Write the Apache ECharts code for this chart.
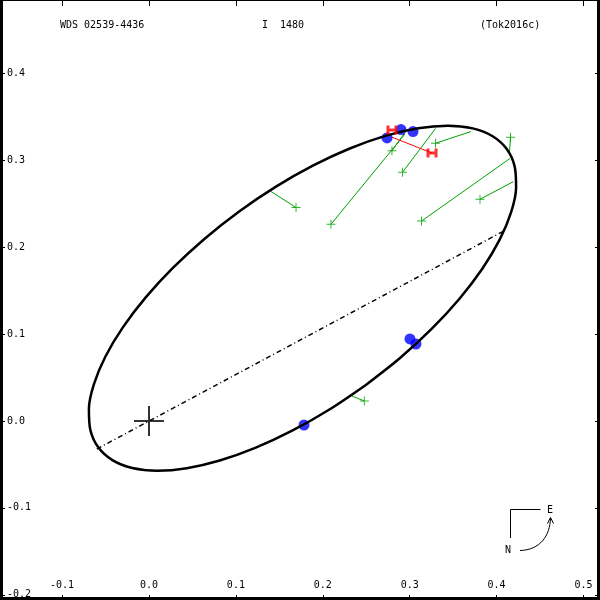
<!DOCTYPE html>
<html><head><meta charset="utf-8">
<script src="https://cdn.jsdelivr.net/npm/echarts@6/dist/echarts.min.js"></script>
<style>html,body{margin:0;padding:0;background:#fff}#c{width:600px;height:600px}</style>
</head><body><div id="c"></div>
<script>
// ---- data (arcsec) ----
const xTicks = [-0.1, 0.0, 0.1, 0.2, 0.3, 0.4, 0.5];
const yTicks = [-0.2, -0.1, 0.0, 0.1, 0.2, 0.3, 0.4];
const headerLeft = 'WDS 02539-4436';
const headerMid = 'I  1480';
const headerRight = '(Tok2016c)';

// apparent orbit, points
const orbit = [
  [0.24953,0.04151],[0.20761,0.01323],[0.16474,-0.01117],[0.12225,-0.03094],[0.08140,-0.04546],
  [0.04345,-0.05432],[0.00955,-0.05723],[-0.01929,-0.05410],[-0.04216,-0.04504],[-0.05839,-0.03032],
  [-0.06748,-0.01038],[-0.06915,0.01416],[-0.06335,0.04257],[-0.05025,0.07398],[-0.03028,0.10744],
  [-0.00401,0.14192],[0.02776,0.17639],[0.06405,0.20979],[0.10375,0.24111],[0.14567,0.26939],
  [0.18854,0.29379],[0.23103,0.31356],[0.27188,0.32808],[0.30983,0.33694],[0.34373,0.33985],
  [0.37257,0.33672],[0.39544,0.32766],[0.41167,0.31294],[0.42076,0.29300],[0.42243,0.26846],
  [0.41663,0.24005],[0.40353,0.20864],[0.38356,0.17518],[0.35729,0.14070],[0.32552,0.10623],
  [0.28923,0.07283],[0.24953,0.04151]
];
// line of nodes
const nodes = [[-0.0600,-0.0322],[0.4080,0.2185]];
// speckle measures (blue)
const speckle = [[0.2739,0.3257],[0.2900,0.3354],[0.3038,0.3331],[0.3003,0.0944],[0.3072,0.0886],[0.1784,-0.0046]];
// micrometric measures (green) and their predicted positions
const micro = [[0.1692,0.2457],[0.2094,0.2264],[0.2796,0.3110],[0.2917,0.2862],[0.3297,0.3196],
               [0.4160,0.3265],[0.3809,0.2552],[0.3136,0.2301],[0.2478,0.0230]];
const microFit = [[0.1404,0.2641],[0.2946,0.3303],[0.2934,0.3303],[0.3297,0.3366],[0.3705,0.3331],
                  [0.4148,0.3096],[0.4192,0.2754],[0.4154,0.3021],[0.2333,0.0288]];
// Hipparcos-type measures (red)
const hip = [[0.2796,0.3349],[0.3257,0.3084]];
const hipFit = [[0.2796,0.3349],[0.2791,0.3268]];
const origin = [[0,0]];

// ---- chart ----
const FONT = 'DejaVu Sans Mono';
const xMin = -0.17146, xMax = 0.51899, yMin = -0.20598, yMax = 0.48446;
const fmt = v => v.toFixed(1);
const plusPath = 'path://M4,0 L5,0 L5,4 L9,4 L9,5 L5,5 L5,9 L4,9 L4,5 L0,5 L0,4 L4,4 Z';
const bigPlus = 'path://M14,0 L16,0 L16,14 L30,14 L30,16 L16,16 L16,30 L14,30 L14,16 L0,16 L0,14 L14,14 Z';
const hPath = 'path://M0,0 L3,0 L3,3 L8,3 L8,0 L11,0 L11,9 L8,9 L8,6 L3,6 L3,9 L0,9 Z';

const chart = echarts.init(document.getElementById('c'), null, {renderer: 'canvas'});
chart.setOption({
  animation: false,
  backgroundColor: '#fff',
  grid: {left: 0, right: 0, top: 0, bottom: 0, containLabel: false},
  xAxis: [
    {type: 'value', position: 'bottom', min: xMin, max: xMax,
     splitLine: {show: false},
     axisLine: {show: true, onZero: false, lineStyle: {color: '#000', width: 6}},
     axisTick: {show: true, inside: true, length: 5, customValues: xTicks, lineStyle: {color: '#000', width: 1}},
     axisLabel: {show: true, inside: true, margin: 10, customValues: xTicks, formatter: fmt,
                 color: '#000', fontFamily: FONT, fontSize: 10}},
    {type: 'value', position: 'top', min: xMin, max: xMax,
     splitLine: {show: false},
     axisLine: {show: true, onZero: false, lineStyle: {color: '#000', width: 2}},
     axisTick: {show: true, inside: true, length: 6, customValues: xTicks, lineStyle: {color: '#000', width: 1}},
     axisLabel: {show: false}}
  ],
  yAxis: [
    {type: 'value', position: 'left', min: yMin, max: yMax,
     splitLine: {show: false},
     axisLine: {show: true, onZero: false, lineStyle: {color: '#000', width: 6}},
     axisTick: {show: true, inside: true, length: 5, customValues: yTicks, lineStyle: {color: '#000', width: 1}},
     axisLabel: {show: true, inside: true, margin: 7, customValues: yTicks, formatter: fmt,
                 color: '#000', fontFamily: FONT, fontSize: 10}},
    {type: 'value', position: 'right', min: yMin, max: yMax,
     splitLine: {show: false},
     axisLine: {show: true, onZero: false, lineStyle: {color: '#000', width: 6}},
     axisTick: {show: true, inside: true, length: 5, customValues: yTicks, lineStyle: {color: '#000', width: 1}},
     axisLabel: {show: false}}
  ],
  series: [
    {type: 'lines', coordinateSystem: 'cartesian2d', z: 2, silent: true,
     lineStyle: {color: '#00a000', width: 1, opacity: 1},
     data: micro.map((p, i) => ({coords: [p, microFit[i]]}))},
    {type: 'lines', coordinateSystem: 'cartesian2d', z: 2, silent: true,
     lineStyle: {color: '#ff0000', width: 1, opacity: 1},
     data: hip.map((p, i) => ({coords: [p, hipFit[i]]}))},
    {type: 'lines', coordinateSystem: 'cartesian2d', z: 2, silent: true,
     lineStyle: {color: '#000', width: 1.5, opacity: 1, type: [5, 3, 1, 3]},
     data: [{coords: nodes}]},
    {type: 'scatter', z: 3, silent: true, symbol: plusPath, symbolSize: 9,
     itemStyle: {color: '#00a000'}, data: micro},
    {type: 'scatter', z: 4, silent: true, symbol: 'circle', symbolSize: 11,
     itemStyle: {color: '#0000ff'}, data: speckle},
    {type: 'line', z: 5, silent: true, smooth: 0.3, showSymbol: false, symbol: 'none',
     lineStyle: {color: '#000', width: 2.5}, data: orbit},
    {type: 'scatter', z: 6, silent: true, symbol: hPath, symbolSize: [11, 9],
     itemStyle: {color: '#ff0000'}, data: hip},
    {type: 'scatter', z: 6, silent: true, symbol: bigPlus, symbolSize: 30,
     itemStyle: {color: '#000'}, data: origin}
  ],
  graphic: [
    {type: 'text', left: 60, top: 20, style: {text: headerLeft, font: '10px ' + FONT, fill: '#000'}},
    {type: 'text', left: 262, top: 20, style: {text: headerMid, font: '10px ' + FONT, fill: '#000'}},
    {type: 'text', left: 480, top: 20, style: {text: headerRight, font: '10px ' + FONT, fill: '#000'}},
    {type: 'polyline', shape: {points: [[540.5, 509.5], [510.5, 509.5], [510.5, 538]]},
     style: {stroke: '#000', lineWidth: 1, fill: null}},
    {type: 'text', x: 550, y: 510, style: {text: 'E', font: '10px ' + FONT, fill: '#000', align: 'center', verticalAlign: 'middle'}},
    {type: 'text', x: 508, y: 550, style: {text: 'N', font: '10px ' + FONT, fill: '#000', align: 'center', verticalAlign: 'middle'}},
    {type: 'bezierCurve', shape: {x1: 520, y1: 550.5, cpx1: 540, cpy1: 550, cpx2: 550, cpy2: 536, x2: 550.5, y2: 518},
     style: {stroke: '#000', lineWidth: 1, fill: null}},
    {type: 'polyline', shape: {points: [[547.5, 523.5], [550.5, 517.5], [553.5, 523.5]]},
     style: {stroke: '#000', lineWidth: 1, fill: null}}
  ]
});
</script>
</body></html>
